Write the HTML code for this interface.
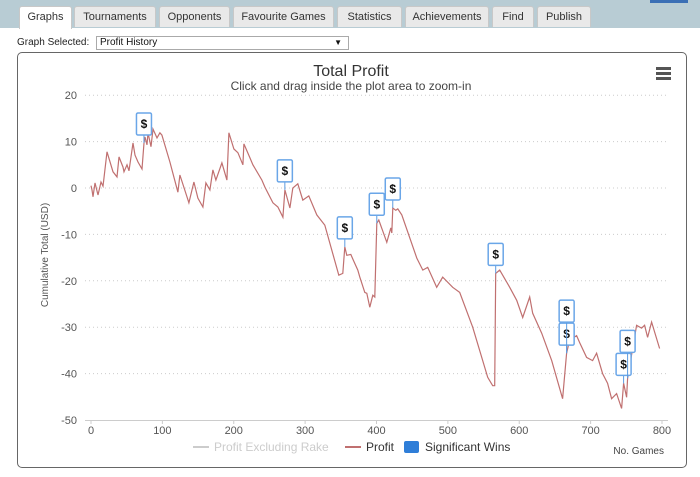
<!DOCTYPE html>
<html><head><meta charset="utf-8"><style>
body{margin:0;width:700px;height:477px;overflow:hidden;background:#fff;font-family:"Liberation Sans",sans-serif;position:relative}
.top{position:absolute;left:0;top:0;width:700px;height:28px;background:#b8ccd4}
.tab{position:absolute;top:6px;height:21px;background:#e9e9e9;border:1px solid #c8c8c8;border-bottom:none;border-radius:3px 3px 0 0;font-size:11px;color:#333;text-align:center;line-height:21px;box-sizing:border-box}
.tab.active{background:#fff;height:23px}
</style></head><body>
<div class="top"></div>
<div style="position:absolute;left:650px;top:0;width:38px;height:3px;background:#3b6fb5"></div>
<div class="tab active" style="left:19px;width:53px">Graphs</div>
<div class="tab" style="left:74px;width:82px">Tournaments</div>
<div class="tab" style="left:159px;width:71px">Opponents</div>
<div class="tab" style="left:233px;width:101px">Favourite Games</div>
<div class="tab" style="left:337px;width:65px">Statistics</div>
<div class="tab" style="left:405px;width:84px">Achievements</div>
<div class="tab" style="left:492px;width:42px">Find</div>
<div class="tab" style="left:537px;width:54px">Publish</div>
<div style="position:absolute;left:17px;top:37px;font-size:10px;color:#222">Graph Selected:</div>
<div style="position:absolute;left:96px;top:36px;width:253px;height:14px;border:1px solid #aaa;box-sizing:border-box;font-size:10px;line-height:12px;padding-left:3px;color:#111">Profit History<span style="position:absolute;right:6px;font-size:8px">▼</span></div>
<div style="position:absolute;left:17px;top:52px;width:670px;height:416px;border:1px solid #666;border-radius:5px;box-sizing:border-box"></div>
<svg id="chart" width="700" height="477" style="position:absolute;left:0;top:0">
<text x="351" y="76" text-anchor="middle" font-size="16" fill="#333">Total Profit</text>
<text x="351" y="90" text-anchor="middle" font-size="12" fill="#444">Click and drag inside the plot area to zoom-in</text>
<g fill="#555"><rect x="656" y="67" width="15" height="3"/><rect x="656" y="72" width="15" height="3"/><rect x="656" y="77" width="15" height="3"/></g>
<text transform="translate(48,255) rotate(-90)" text-anchor="middle" font-size="10" fill="#555">Cumulative Total (USD)</text>
<text x="664" y="454" text-anchor="end" font-size="10" fill="#444">No. Games</text>
<g id="grid"></g><g id="xax"></g><g id="series"></g><g id="flags"></g>
<g>
<g><line x1="193" y1="447" x2="209" y2="447" stroke="#ccc" stroke-width="2"/><text x="214" y="451" font-size="12" fill="#ccc">Profit Excluding Rake</text></g>
<g><line x1="345" y1="447" x2="361" y2="447" stroke="#c07070" stroke-width="2"/><text x="366" y="451" font-size="12" fill="#333">Profit</text></g>
<g><rect x="404" y="441" width="15" height="12" rx="2" fill="#2f7ed8"/><text x="425" y="451" font-size="12" fill="#333">Significant Wins</text></g>
</g>
</svg>
<script>
const games=[0,1.4,2.8,5.6,9.8,14,16.8,18.2,22.4,30.8,36.4,39.2,44.8,46.2,50.4,53.2,58.8,61.6,65.8,71.4,74.2,75.6,78.4,79.8,84,86.8,92.4,96.6,99.4,110.6,121.8,124.6,137.2,144.2,149.8,156.8,161,166.6,170.8,175,183.4,190.4,193.2,200.2,205.8,212.8,214.2,222.6,226.8,239.4,243.6,254.8,261.8,268.8,271.6,278.6,282.8,289.8,296.8,305.2,316.4,327.6,347.2,352.8,355.6,358.4,364,366.8,373.8,376.6,383.6,386.4,390.6,394.8,397.6,400.4,403.2,414.4,420,421.4,422.8,427,429.8,435.4,456.4,464.8,471.8,484.4,492.8,506.8,516.6,534.8,555.8,562.8,565.6,567,572.6,586.6,596.4,604.8,614.6,618.8,631.4,645.4,660.8,666.4,670.6,680.4,684.6,694.4,702.8,708.4,716.8,723.8,729.4,736.4,743.4,746.2,750.4,751.8,764.4,771.4,775.6,779.8,785.4,796.6];
const profit=[0.5,-0.4,-1.9,1.1,-1.5,1.3,0.4,2.2,7.8,3.5,2.4,6.7,4.5,3.5,5.0,3.7,9.7,7.1,5.6,4.1,9.7,11.0,9.3,11.9,8.9,12.7,10.8,11.9,11.4,5.6,-0.9,2.8,-3.2,1.3,-2.2,-4.1,1.1,-0.4,3.9,1.7,5.4,1.7,11.9,8.4,7.6,5.0,9.5,6.5,5.0,1.7,0.2,-3.2,-4.1,-6.3,-0.4,-4.3,0,0.9,-2.6,-1.7,-5.8,-8.0,-18.8,-18.4,-12.7,-14.5,-14.3,-15.3,-17.7,-19.2,-22.5,-22.7,-25.7,-23.1,-23.5,-7.6,-6.9,-11.7,-8.6,-9.7,-4.3,-4.8,-4.5,-5.8,-15.1,-17.7,-17.1,-21.4,-19.2,-21.4,-22.5,-30.0,-40.8,-42.6,-42.6,-18.4,-17.7,-21.4,-24.2,-27.9,-23.5,-27.0,-31.3,-37.2,-45.4,-35.6,-32.8,-31.8,-33.3,-36.5,-37.2,-35.6,-40.0,-42.1,-45.4,-44.3,-47.5,-42.1,-45.1,-41.0,-29.6,-30.2,-29.6,-32.2,-28.9,-34.6];
const winGames=[74.2,271.6,355.6,400.4,422.8,567,666.4,666.4,746.2,751.8];
const winValues=[9.7,-0.4,-12.7,-7.6,-4.3,-18.4,-35.6,-35.6,-42.1,-41.0];
const yTicks=[20,10,0,-10,-20,-30,-40,-50];
const xTicks=[0,100,200,300,400,500,600,700,800];
const X=g=>91+g*(662-91)/800;
const Y=v=>188-v*(420-188)/50;
const NS="http://www.w3.org/2000/svg";
function mk(t,a,p){const e=document.createElementNS(NS,t);for(const k in a)e.setAttribute(k,a[k]);p.appendChild(e);return e;}
const grid=document.getElementById('grid');
yTicks.forEach(v=>{
 if(v>-50){const l=mk('line',{x1:85,x2:668,y1:Y(v),y2:Y(v),stroke:'#ccc','stroke-dasharray':'1,3'},grid);
 
 }
 const t=mk('text',{x:77,y:Y(v)+4,'text-anchor':'end','font-size':11,fill:'#555'},grid);t.textContent=v;
 
 
});
const xax=document.getElementById('xax');
const ax=mk('line',{x1:85,x2:668,y1:420.5,y2:420.5,stroke:'#ccc'},xax);


xTicks.forEach(g=>{
 mk('line',{x1:X(g),x2:X(g),y1:420,y2:424,stroke:'#ccc'},xax);
 const t=mk('text',{x:X(g),y:434,'text-anchor':'middle','font-size':11,fill:'#555'},xax);t.textContent=g;
 
 
});
const pl=mk('polyline',{points:games.map((g,i)=>X(g).toFixed(1)+','+Y(profit[i]).toFixed(1)).join(' '),fill:'none',stroke:'#c07070','stroke-width':1.2},document.getElementById('series'));


const fg=document.getElementById('flags');const placed=[];
winGames.forEach((g,i)=>{
 const px=X(g),py=Y(winValues[i]);let bottom=py-8;
 placed.forEach(b=>{if(Math.abs(b.x-px)<14&&bottom>b.top-1&&bottom-22<b.bottom)bottom=b.top-1;});
 const top=bottom-22;placed.push({x:px,top:top,bottom:bottom});
 const grp=mk('g',{},fg);
 
 
 mk('line',{x1:px,x2:px,y1:bottom,y2:py,stroke:'#5b9be0'},grp);
 mk('rect',{x:px-7.5,y:top,width:15,height:22,rx:1.5,fill:'#fff',stroke:'#6aa6e8','stroke-width':1.5},grp);
 const t=mk('text',{x:px,y:top+15,'text-anchor':'middle','font-size':12,'font-weight':'bold',fill:'#111'},grp);t.textContent='$';
});
</script>
</body></html>
